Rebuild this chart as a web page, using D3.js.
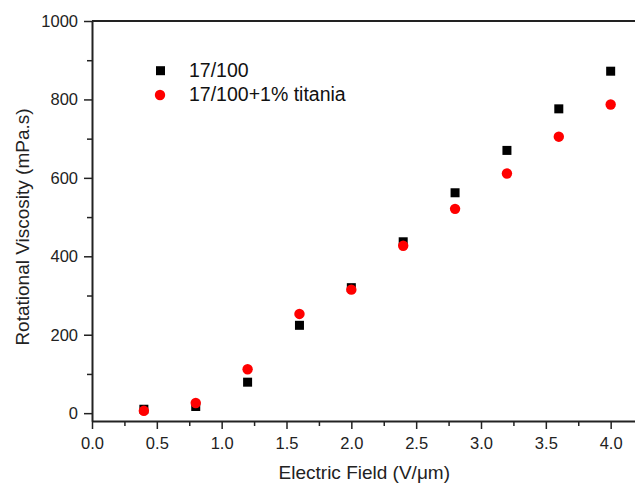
<!DOCTYPE html>
<html>
<head>
<meta charset="utf-8">
<script src="https://cdn.jsdelivr.net/npm/d3@7"></script>
<style>
  body { margin: 0; background: #fff; }
  svg { display: block; font-family: Arial, "Liberation Sans", sans-serif; }
  .axis path, .axis line { stroke: #222; }
  .axis text { font-size: 16.5px; fill: #222; }
</style>
</head>
<body>
<svg width="635" height="483"></svg>
<script>
// data
const field = [0.4, 0.8, 1.2, 1.6, 2.0, 2.4, 2.8, 3.2, 3.6, 4.0];
const plain = [10, 17, 79, 224, 320, 437, 562, 670, 776, 872];
const titania = [6, 26, 112, 253, 315, 427, 521, 611, 705, 787];
const xTicks = [0, 0.5, 1, 1.5, 2, 2.5, 3, 3.5, 4];
const yTicks = [0, 200, 400, 600, 800, 1000];
const seriesNames = ["17/100", "17/100+1% titania"];

const svg = d3.select("svg");
const mLeft = 92, mTop = 21, mBottom = 421, mRight = 636.6;

const x = d3.scaleLinear().domain([0, 4.2]).range([mLeft, mRight]);
const y = d3.scaleLinear().domain([-20, 1000]).range([mBottom, mTop]);

// minor ticks first, major on top
svg.append("g").attr("class", "axis")
    .attr("transform", `translate(0,${mBottom})`)
    .call(d3.axisBottom(x).tickValues(d3.range(0.25, 4.2, 0.5)).tickSize(5).tickFormat(""))
    .call(g => g.select(".domain").remove())
    .selectAll("line").attr("stroke-width", 1.5);
svg.append("g").attr("class", "axis")
    .attr("transform", `translate(${mLeft},0)`)
    .call(d3.axisLeft(y).tickValues(d3.range(100, 1000, 200)).tickSize(5).tickFormat(""))
    .call(g => g.select(".domain").remove())
    .selectAll("line").attr("stroke-width", 1.5);

const xAxis = svg.append("g").attr("class", "axis")
    .attr("transform", `translate(0,${mBottom})`)
    .call(d3.axisBottom(x).tickValues(xTicks).tickSize(8).tickSizeOuter(0).tickPadding(8).tickFormat(d3.format(".1f")));
xAxis.select(".domain").attr("stroke-width", 2);
xAxis.selectAll("line").attr("stroke-width", 1.5);

const yAxis = svg.append("g").attr("class", "axis")
    .attr("transform", `translate(${mLeft},0)`)
    .call(d3.axisLeft(y).tickValues(yTicks).tickSize(8).tickSizeOuter(0).tickPadding(6).tickFormat(d3.format("d")));
yAxis.select(".domain").attr("stroke-width", 2);
yAxis.selectAll("line").attr("stroke-width", 1.5);

// top frame line
svg.append("line")
    .attr("x1", mLeft).attr("x2", mRight)
    .attr("y1", mTop).attr("y2", mTop)
    .attr("stroke", "#222").attr("stroke-width", 2);

// axis titles
svg.append("text")
    .attr("x", (mLeft + mRight) / 2).attr("y", 479)
    .attr("text-anchor", "middle")
    .attr("font-size", 19).attr("fill", "#222")
    .text("Electric Field (V/\u03bcm)");

svg.append("text")
    .attr("transform", `translate(29,227) rotate(-90)`)
    .attr("text-anchor", "middle")
    .attr("font-size", 19).attr("fill", "#222")
    .text("Rotational Viscosity (mPa.s)");

// points
const sq = 9;
svg.append("g").selectAll("rect")
    .data(field.map((f, i) => [f, plain[i]]))
    .join("rect")
    .attr("x", d => x(d[0]) - sq / 2)
    .attr("y", d => y(d[1]) - sq / 2)
    .attr("width", sq).attr("height", sq)
    .attr("fill", "#000");

svg.append("g").selectAll("circle")
    .data(field.map((f, i) => [f, titania[i]]))
    .join("circle")
    .attr("cx", d => x(d[0]))
    .attr("cy", d => y(d[1]))
    .attr("r", 5.2)
    .attr("fill", "#ff0000");

// legend
const legend = svg.append("g");
legend.append("rect")
    .attr("x", 160.5 - sq / 2).attr("y", 70.7 - sq / 2)
    .attr("width", sq).attr("height", sq).attr("fill", "#000");
legend.append("circle")
    .attr("cx", 160).attr("cy", 95).attr("r", 5.2).attr("fill", "#ff0000");
legend.selectAll("text")
    .data(seriesNames)
    .join("text")
    .attr("x", 189).attr("y", (d, i) => 77 + i * 24)
    .attr("font-size", 19.5).attr("fill", "#111")
    .text(d => d);
</script>
</body>
</html>
